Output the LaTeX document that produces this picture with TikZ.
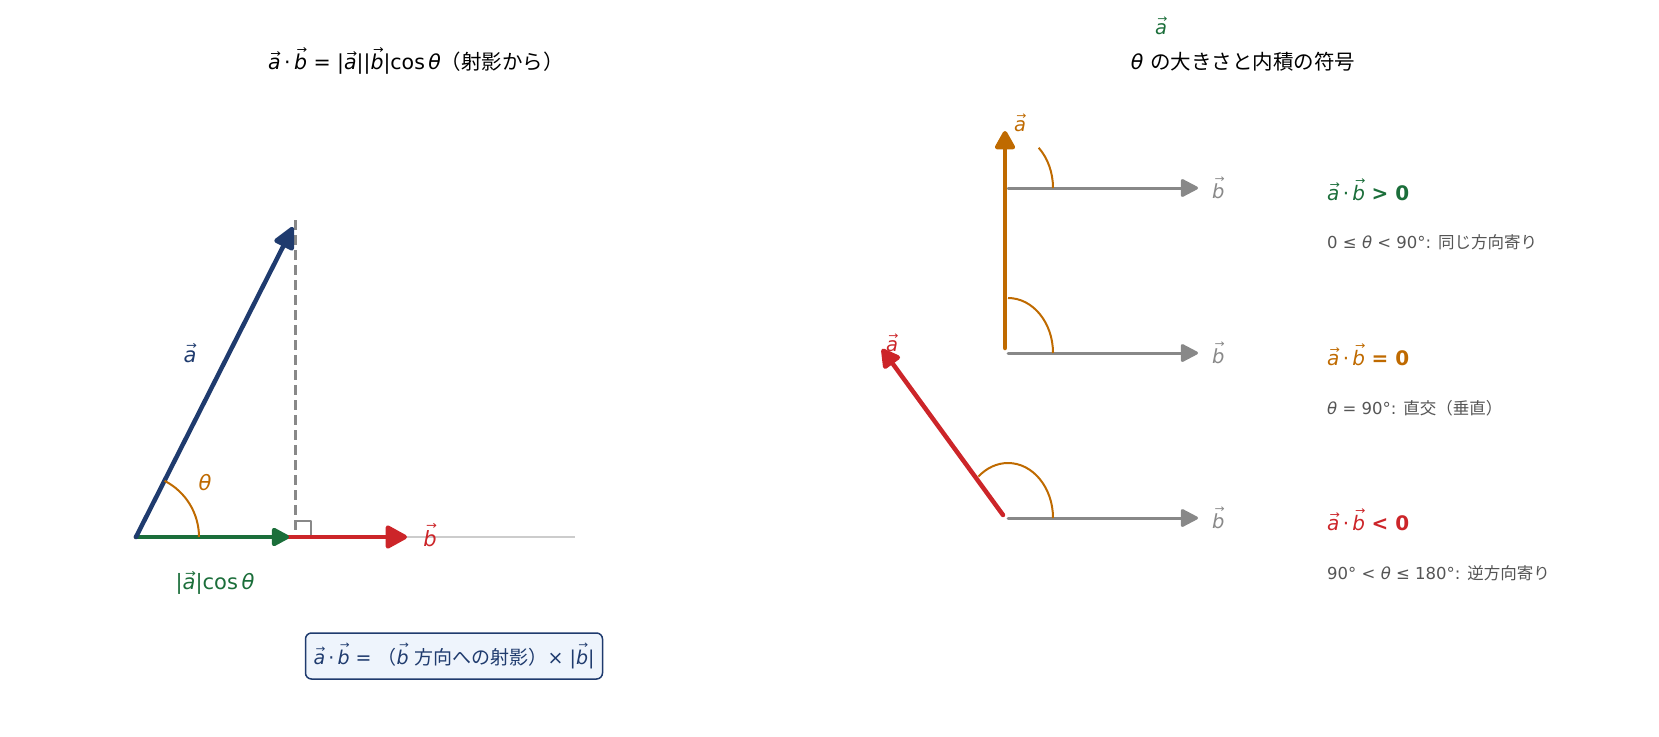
\documentclass[tikz,border=0pt]{standalone}
\usepackage{fontspec}
\setmainfont{DejaVu Sans}
\newfontfamily\jpfont{Noto Sans CJK JP}
\usetikzlibrary{positioning,arrows.meta}
\definecolor{vecblue}{HTML}{1F3B6E}
\definecolor{projgreen}{HTML}{1B6E3A}
\definecolor{vecred}{HTML}{CC2529}
\definecolor{angorange}{HTML}{BF6A00}
\definecolor{vecgray}{HTML}{888888}
\definecolor{subgray}{HTML}{555555}
\definecolor{boxfill}{HTML}{EEF4FC}
\newcommand{\jp}[1]{{\jpfont #1}}
\newcommand{\vv}[1]{{\setbox0\hbox{\itshape #1}\hbox{\rlap{\hbox to \wd0{\hss\raisebox{\dimexpr\ht0+0.04em\relax}{\kern0.14em\scalebox{0.62}[0.55]{→}}\hss}}\box0}}}
\tikzset{
  vec/.style={line width=4.5pt, line cap=round, -{Triangle[length=25pt,width=23pt,round]}},
  small vec/.style={line width=3pt, line cap=round, -{Triangle[length=19pt,width=19pt,round]}},
  angle arc/.style={draw=angorange, line width=2pt},
  title text/.style={font=\fontsize{20.5}{23}\selectfont, inner sep=0pt},
  big label/.style={font=\fontsize{21}{23}\selectfont, inner sep=0pt},
  tip label/.style={font=\fontsize{19.5}{21}\selectfont, inner sep=0pt},
  sign label/.style={font=\fontsize{20}{22}\selectfont, inner sep=0pt, anchor=west},
  case text/.style={font=\fontsize{16.5}{19}\selectfont, text=subgray, inner sep=0pt, anchor=west},
}

\begin{document}
\begin{tikzpicture}[x=1pt, y=-1pt, line join=round]
    \useasboundingbox (0,0) rectangle (1659,736);
    % Projection
    \coordinate (O) at (136,537);
    \coordinate (A) at (293,227);
    \coordinate (P) at (295,537);
    \coordinate (T) at (295,220);
    \coordinate (B) at (407,537);
    \coordinate (E) at (575,537);
    \node[title text] (t1) at (416,61) {\vv{a}\,·\,\vv{b} = |\vv{a}||\vv{b}|cos\,{\itshape θ}\jp{（射影から）}};
    \draw[draw=black!20, line width=2pt] (O) -- (E);
    \draw[vecgray, line width=3pt, dash pattern=on 10pt off 5pt] (T) -- (P);
    \draw[vecgray, line width=1.5pt] ([yshift=16pt]P) -| ([xshift=16pt]P);
    \draw[vec, vecred, -{Triangle[length=24pt,width=25pt,round]}] (O) -- (B);
    \draw[vec, projgreen, -{Triangle[length=20pt,width=20pt,round]}, shorten >=6pt] (O) -- (P);
    \draw[vec, vecblue] (O) -- (A);
    \draw[angle arc] ([xshift=63pt]O) arc[start angle=0, end angle=63, radius=63pt];
    \node[big label, text=vecblue] (la) at (190,353) {\vv{a}};
    \node[big label, text=vecred] (lb) at (430,535) {\vv{b}};
    \node[big label, text=angorange] (lt) at (205,483) {\itshape θ};
    \node[big label, text=projgreen] (lp) at (215,583) {|\vv{a}|cos\,{\itshape θ}};
    \node[title text, font=\fontsize{19}{21}\selectfont, text=vecblue, draw=vecblue, fill=boxfill, line width=1.5pt,
          rounded corners=6pt, inner xsep=8pt, minimum height=46pt] (box) at (454,656)
          {\vv{a}\,·\,\vv{b} = \jp{（}\vv{b} \jp{方向への射影）}× |\vv{b}|};
    % Sign of the inner product
    \node[tip label, text=projgreen] (ga) at (1161,26) {\vv{a}};
    \node[title text] (t2) at (1243,62) {{\itshape θ} \jp{の大きさと内積の符号}};
    \coordinate (C1) at (1008,188);
    \coordinate (D1) at (1198,188);
    \coordinate (C2) at (1008,353);
    \coordinate (D2) at (1198,353);
    \coordinate (C3) at (1008,518);
    \coordinate (D3) at (1198,518);
    \coordinate (V0) at (1005,348);
    \coordinate (V1) at (1005,131);
    \coordinate (R0) at (1003,515);
    \coordinate (R1) at (882,349);
    \draw[small vec, vecgray] (C1) -- (D1);
    \draw[small vec, vecgray] (C2) -- (D2);
    \draw[small vec, vecgray] (C3) -- (D3);
    \draw[vec, angorange, -{Triangle[length=21pt,width=22pt,round]}] (V0) -- (V1);
    \draw[vec, vecred, -{Triangle[length=21pt,width=22pt,round]}] (R0) -- (R1);
    \draw[angle arc] ([xshift=45pt]C1) arc[start angle=0, end angle=47, x radius=45pt, y radius=55pt];
    \draw[angle arc] ([xshift=45pt]C2) arc[start angle=0, end angle=90, x radius=45pt, y radius=55pt];
    \draw[angle arc] ([xshift=45pt]C3) arc[start angle=0, end angle=131, x radius=45pt, y radius=55pt];
    \node[tip label, text=angorange] (oa) at (1020,123) {\vv{a}};
    \node[tip label, text=vecred] (ra) at (892,343) {\vv{a}};
    \node[tip label, text=vecgray, right=14pt of D1] (b1) {\vv{b}};
    \node[tip label, text=vecgray, right=14pt of D2] (b2) {\vv{b}};
    \node[tip label, text=vecgray, right=14pt of D3] (b3) {\vv{b}};
    \node[sign label, text=projgreen] (s1) at (1327,190) {\vv{a}\,·\,\vv{b} \textbf{> 0}};
    \node[sign label, text=angorange] (s2) at (1327,355) {\vv{a}\,·\,\vv{b} \textbf{= 0}};
    \node[sign label, text=vecred] (s3) at (1327,520) {\vv{a}\,·\,\vv{b} \textbf{< 0}};
    \node[case text, below=52pt of s1.west, anchor=west] (c1) {0 ≤ {\itshape θ} < 90°: \jp{同じ方向寄り}};
    \node[case text, below=53pt of s2.west, anchor=west] (c2) {{\itshape θ} = 90°: \jp{直交（垂直）}};
    \node[case text, below=53pt of s3.west, anchor=west] (c3) {90° < {\itshape θ} ≤ 180°: \jp{逆方向寄り}};
\end{tikzpicture}
\end{document}
